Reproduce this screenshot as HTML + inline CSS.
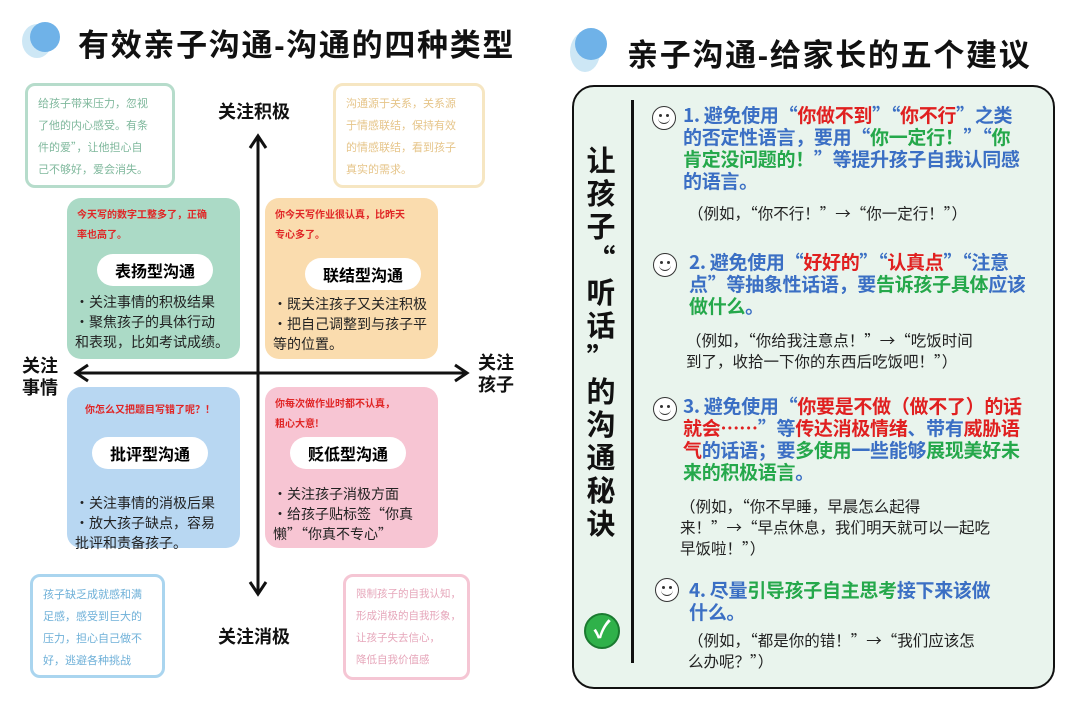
<!DOCTYPE html>
<html><head><meta charset="utf-8"><style>
*{margin:0;padding:0;box-sizing:border-box}
body{width:1080px;height:720px;background:#fff;position:relative;overflow:hidden;font-family:"Liberation Sans","Noto Sans CJK SC",sans-serif}
.cj{font-family:"Noto Sans CJK SC",sans-serif}
.a{position:absolute;white-space:nowrap}
.t{font-weight:bold;font-size:31px;color:#111}
.bub{position:absolute;border:3px solid;border-radius:10px;background:#fff;font-size:11px;line-height:22px;padding:6px 10px;white-space:nowrap;font-family:"Noto Sans CJK SC",sans-serif}
.box{position:absolute;border-radius:14px;width:173px;height:161px;font-family:"Noto Sans CJK SC",sans-serif}
.red{position:absolute;color:#e02626;font-size:10px;font-weight:bold;line-height:20px;left:10px;top:6px;white-space:nowrap}
.pill{position:absolute;background:#fff;border-radius:18px;font-weight:bold;font-size:16px;text-align:center;line-height:32px;width:116px;height:32px}
.bl{position:absolute;font-size:14px;line-height:20px;color:#222;left:8px;white-space:nowrap}
.ax{font-weight:bold;font-size:18px;color:#111}
.it{position:absolute;left:683px;font-weight:bold;font-size:19px;line-height:22px;color:#3b6fc4;white-space:nowrap;font-family:"Noto Sans CJK SC",sans-serif;letter-spacing:-0.3px}
.r{color:#e02020}.g{color:#25a84b}
.ex{position:absolute;font-size:15.5px;line-height:21px;color:#222;white-space:nowrap;font-family:"Noto Sans CJK SC",sans-serif}
.sm{position:absolute;width:24px;height:24px;border:1.5px solid #333;border-radius:50%;background:#fff}
.sm:before{content:"";position:absolute;left:6px;top:7px;width:3px;height:3px;background:#333;border-radius:50%;box-shadow:7px 0 0 #333}
.sm:after{content:"";position:absolute;left:5px;top:9px;width:12px;height:7px;border-bottom:1.5px solid #333;border-radius:0 0 8px 8px}
</style></head><body>
<div class="a" style="left:22px;top:24px;width:30px;height:34px;border-radius:50%;background:#cde7f5"></div>
<div class="a" style="left:30px;top:22px;width:30px;height:30px;border-radius:50%;background:#6fb2e8"></div>
<div class="a t" style="left:78px;top:20px;letter-spacing:1.7px">有效亲子沟通-沟通的四种类型</div>
<div class="a" style="left:570px;top:32px;width:30px;height:40px;border-radius:50%;background:#cde7f5"></div>
<div class="a" style="left:575px;top:28px;width:32px;height:32px;border-radius:50%;background:#6fb2e8"></div>
<div class="a t" style="left:627px;top:30px;letter-spacing:1.7px">亲子沟通-给家长的五个建议</div>

<div class="bub" style="left:25px;top:83px;width:150px;height:105px;border-color:#b6dccb;color:#7fb89c">给孩子带来压力，忽视<br>了他的内心感受。有条<br>件的爱”，让他担心自<br>己不够好，爱会消失。</div>
<div class="bub" style="left:333px;top:83px;width:152px;height:105px;border-color:#f6e6c2;color:#e6c58a">沟通源于关系，关系源<br>于情感联结，保持有效<br>的情感联结，看到孩子<br>真实的需求。</div>
<div class="bub" style="left:30px;top:574px;width:135px;height:104px;border-color:#aad5ef;color:#6eb0d8">孩子缺乏成就感和满<br>足感，感受到巨大的<br>压力，担心自己做不<br>好，逃避各种挑战</div>
<div class="bub" style="left:343px;top:574px;width:127px;height:106px;border-color:#f5c6d4;color:#e6a6ba;font-size:10.5px">限制孩子的自我认知，<br>形成消极的自我形象，<br>让孩子失去信心，<br>降低自我价值感</div>

<svg class="a" style="left:0;top:0" width="540" height="720">
<line x1="258" y1="138" x2="258" y2="593" stroke="#111" stroke-width="3"/>
<polyline points="250,148 258,136 266,148" fill="none" stroke="#111" stroke-width="3"/>
<polyline points="250,582 258,594 266,582" fill="none" stroke="#111" stroke-width="3"/>
<line x1="77" y1="373" x2="466" y2="373" stroke="#111" stroke-width="3"/>
<polyline points="88,365 76,373 88,381" fill="none" stroke="#111" stroke-width="3"/>
<polyline points="455,365 467,373 455,381" fill="none" stroke="#111" stroke-width="3"/>
</svg>
<div class="a ax" style="left:218px;top:98px">关注积极</div>
<div class="a ax" style="left:218px;top:623px">关注消极</div>
<div class="a ax" style="left:22px;top:355px;line-height:22px">关注<br>事情</div>
<div class="a ax" style="left:478px;top:352px;line-height:22px">关注<br>孩子</div>

<div class="box" style="left:67px;top:198px;background:#abdac6">
<div class="red">今天写的数字工整多了，正确<br>率也高了。</div>
<div class="pill" style="left:30px;top:56px">表扬型沟通</div>
<div class="bl" style="top:94px">・关注事情的积极结果<br>・聚焦孩子的具体行动<br>和表现，比如考试成绩。</div></div>
<div class="box" style="left:265px;top:198px;background:#fadcae">
<div class="red">你今天写作业很认真，比昨天<br>专心多了。</div>
<div class="pill" style="left:40px;top:60px">联结型沟通</div>
<div class="bl" style="top:96px">・既关注孩子又关注积极<br>・把自己调整到与孩子平<br>等的位置。</div></div>
<div class="box" style="left:67px;top:387px;background:#b8d7f2">
<div class="red" style="left:18px;top:12px">你怎么又把题目写错了呢？！</div>
<div class="pill" style="left:25px;top:50px">批评型沟通</div>
<div class="bl" style="top:106px">・关注事情的消极后果<br>・放大孩子缺点，容易<br>批评和责备孩子。</div></div>
<div class="box" style="left:265px;top:387px;background:#f7c5d3">
<div class="red">你每次做作业时都不认真，<br>粗心大意!</div>
<div class="pill" style="left:25px;top:50px">贬低型沟通</div>
<div class="bl" style="top:97px">・关注孩子消极方面<br>・给孩子贴标签“你真<br>懒”“你真不专心”</div></div>

<div class="a" style="left:572px;top:85px;width:483px;height:604px;border:2.5px solid #111;border-radius:22px;background:#e9f4ed"></div>
<div class="a" style="left:631px;top:100px;width:3px;height:563px;background:#111"></div>
<div class="a cj" style="left:584px;top:143px;width:34px;font-weight:bold;font-size:29px;line-height:33px;text-align:center;color:#111">让<br>孩<br>子<br>“<br>听<br>话<br>”<br>的<br>沟<br>通<br>秘<br>诀</div>
<div class="a" style="left:584px;top:613px;width:36px;height:36px;border-radius:50%;background:#2fb14a;border:2px solid #1a7a30;color:#fff;font-size:24px;text-align:center;line-height:32px;font-weight:bold">✓</div>

<div class="sm" style="left:652px;top:106px"></div>
<div class="it" style="top:104px">1. 避免使用“<span class="r">你做不到</span>”“<span class="r">你不行</span>”之类<br>的否定性语言，要用“<span class="g">你一定行！</span>”“<span class="g">你<br>肯定没问题的！</span>”等提升孩子自我认同感<br>的语言。</div>
<div class="ex" style="left:688px;top:203px">（例如，“你不行！”→“你一定行！”）</div>

<div class="sm" style="left:653px;top:253px"></div>
<div class="it" style="top:251px;left:689px">2. 避免使用“<span class="r">好好的</span>”“<span class="r">认真点</span>”“注意<br>点”等抽象性话语，要<span class="g">告诉孩子具体</span>应该<br><span class="g">做什么</span>。</div>
<div class="ex" style="left:686px;top:330px">（例如，“你给我注意点！”→“吃饭时间<br>到了，收拾一下你的东西后吃饭吧！”）</div>

<div class="sm" style="left:653px;top:397px"></div>
<div class="it" style="top:395px">3. 避免使用“<span class="r">你要是不做（做不了）的话<br>就会……</span>”等<span class="r">传达消极情绪</span>、带有<span class="r">威胁语<br>气</span>的话语；要<span class="g">多使用</span>一些能够<span class="g">展现美好未<br>来的积极语言</span>。</div>
<div class="ex" style="left:680px;top:496px">（例如，“你不早睡，早晨怎么起得<br>来！”→“早点休息，我们明天就可以一起吃<br>早饭啦！”）</div>

<div class="sm" style="left:655px;top:578px"></div>
<div class="it" style="top:579px;left:689px">4. 尽量<span class="g">引导孩子自主思考</span>接下来该做<br>什么。</div>
<div class="ex" style="left:688px;top:630px">（例如，“都是你的错！”→“我们应该怎<br>么办呢？”）</div>
</body></html>
